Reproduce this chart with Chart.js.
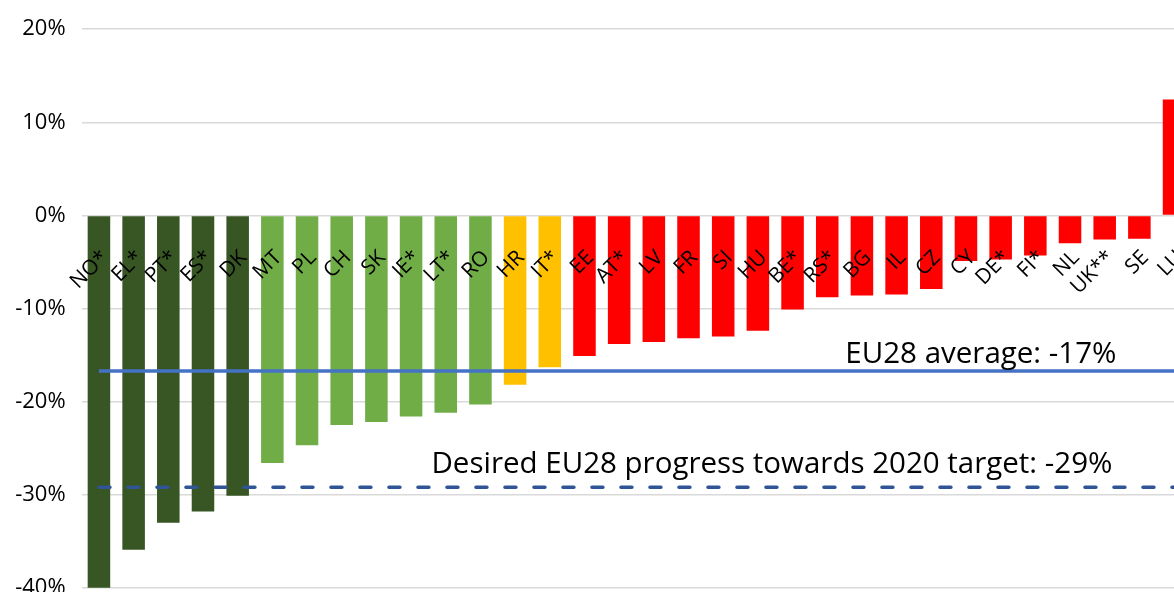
<!DOCTYPE html>
<html>
<head>
<meta charset="utf-8">
<script src="https://cdn.jsdelivr.net/npm/chart.js@4.4.1/dist/chart.umd.min.js"></script>
<style>
  html, body { margin: 0; padding: 0; background: #fff; overflow: hidden; }
  #wrap { position: relative; width: 1214px; height: 617px; }
</style>
</head>
<body>
<div id="wrap"><canvas id="chart"></canvas></div>
<script>
// countries, sorted by change (%)
const countries = ['NO*', 'EL*', 'PT*', 'ES*', 'DK', 'MT', 'PL', 'CH', 'SK', 'IE*', 'LT*', 'RO',
  'HR', 'IT*', 'EE', 'AT*', 'LV', 'FR', 'SI', 'HU', 'BE*', 'RS*', 'BG', 'IL', 'CZ', 'CY',
  'DE*', 'FI*', 'NL', 'UK**', 'SE', 'LU'];
const change = [-40.3, -35.9, -33.0, -31.8, -30.1, -26.6, -24.7, -22.5, -22.2, -21.6, -21.2, -20.3,
  -18.2, -16.3, -15.1, -13.8, -13.6, -13.2, -13.0, -12.4, -10.1, -8.8, -8.6, -8.5, -7.9, -4.9,
  -4.75, -4.3, -3.0, -2.6, -2.5, 12.45];
// performance group of each country
const group = ['top', 'top', 'top', 'top', 'top', 'good', 'good', 'good', 'good', 'good', 'good', 'good',
  'near', 'near', 'far', 'far', 'far', 'far', 'far', 'far', 'far', 'far', 'far', 'far', 'far', 'far',
  'far', 'far', 'far', 'far', 'far', 'far'];
const euAverage = -16.7;
const euTarget = -29.2;
const averageLabel = 'EU28 average: -17%';
const targetLabel = 'Desired EU28 progress towards 2020 target: -29%';
const yTicks = [-40, -30, -20, -10, 0, 10, 20];

const groupColors = { top: '#375623', good: '#70AD47', near: '#FFC000', far: '#FF0000' };
const FONT = '"Open Sans", "Noto Sans", sans-serif';

const refLabels = {
  id: 'refLabels',
  afterDatasetsDraw(chart) {
    const { ctx, chartArea, scales } = chart;
    const y = scales.y;
    ctx.save();
    ctx.fillStyle = '#000';
    ctx.font = '29.5px ' + FONT;
    ctx.textAlign = 'right';
    ctx.textBaseline = 'alphabetic';
    ctx.fillText(averageLabel, chartArea.right - 75, y.getPixelForValue(euAverage) - 8);
    ctx.fillText(targetLabel, chartArea.right - 79, y.getPixelForValue(euTarget) - 14);
    ctx.restore();
  }
};

new Chart(document.getElementById('chart'), {
  data: {
    labels: countries,
    datasets: [
      {
        type: 'line',
        data: countries.map(() => euAverage),
        borderColor: '#4472C4',
        borderWidth: 3.5,
        pointRadius: 0,
        order: 0
      },
      {
        type: 'line',
        data: countries.map(() => euTarget),
        borderColor: '#2F5597',
        borderWidth: 3.5,
        borderDash: [11, 18],
        borderCapStyle: 'round',
        pointRadius: 0,
        order: 0
      },
      {
        type: 'bar',
        data: change,
        backgroundColor: group.map(g => groupColors[g]),
        categoryPercentage: 1,
        barPercentage: 0.65,
        order: 1
      }
    ]
  },
  plugins: [refLabels],
  options: {
    responsive: true,
    maintainAspectRatio: false,
    animation: false,
    layout: { padding: { top: 28.5, right: 8, bottom: 4, left: 0 } },
    plugins: { legend: { display: false }, tooltip: { enabled: false } },
    scales: {
      x: {
        position: { y: 0 },
        grid: { display: false },
        border: { display: false },
        ticks: {
          z: 1,
          autoSkip: false,
          minRotation: 45,
          maxRotation: 45,
          padding: 22,
          labelOffset: 6,
          color: '#000',
          font: { family: FONT, size: 21 }
        }
      },
      y: {
        min: -40,
        max: 20,
        afterFit(scale) { scale.width = 81.6; },
        afterBuildTicks(scale) { scale.ticks = yTicks.map(v => ({ value: v })); },
        grid: { color: '#D9D9D9', lineWidth: 1.5, drawTicks: false },
        border: { display: false },
        ticks: {
          padding: 16,
          color: '#000',
          font: { family: FONT, size: 22 },
          callback: v => v + '%'
        }
      }
    }
  }
});
</script>
</body>
</html>
